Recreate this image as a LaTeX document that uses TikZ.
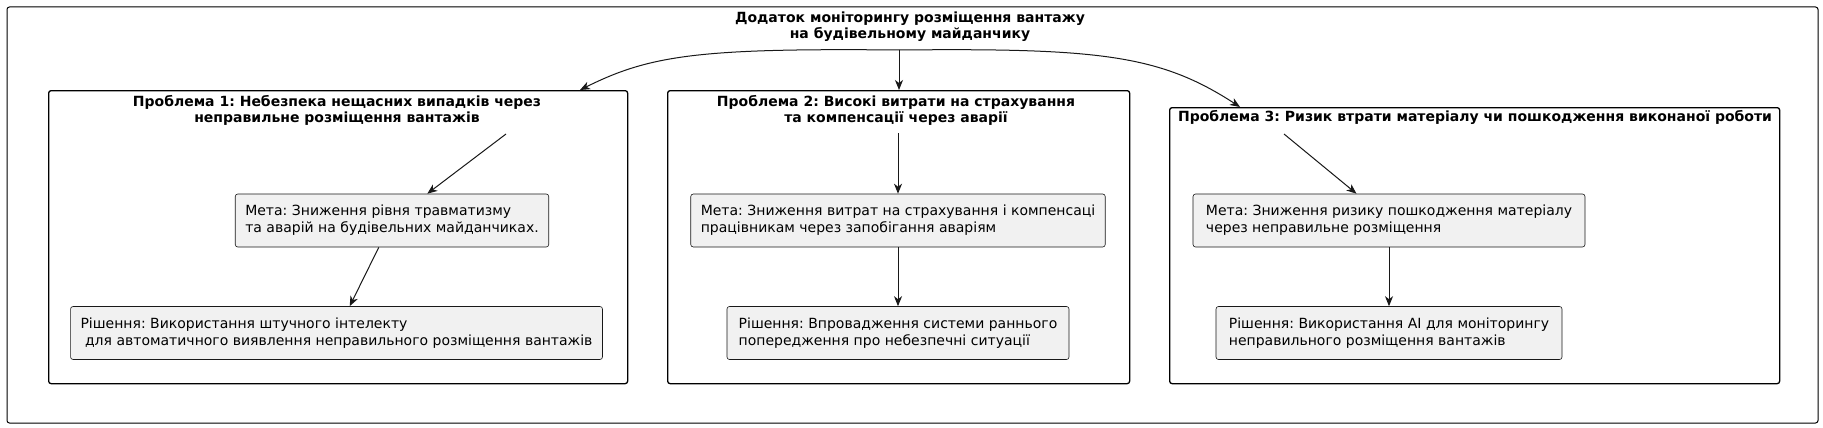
\documentclass[tikz,border=0pt]{standalone}
\usepackage{fontspec}
\setmainfont{DejaVu Sans}
\usetikzlibrary{arrows.meta}
\definecolor{boxfill}{HTML}{F1F1F1}
\definecolor{boxline}{HTML}{181818}
\frenchspacing
\begin{document}
\begin{tikzpicture}[x=1pt,y=-1pt,
  frame/.style={draw=black, line width=1pt, rounded corners=2.5pt, fill=white},
  probframe/.style={draw=black, line width=1.3pt, rounded corners=2.5pt, inner sep=0pt, anchor=north west},
  textbox/.style={draw=boxline, line width=0.6pt, fill=boxfill, rounded corners=2.5pt, align=left,
    minimum height=53pt, inner xsep=10pt, font=\fontsize{14}{17}\selectfont, anchor=center},
  ttl/.style={font=\bfseries\fontsize{14}{16}\selectfont, align=center},
  conn/.style={draw=boxline, line width=1pt, -{Stealth[length=10pt,width=8pt,inset=3pt]}}
]
\useasboundingbox (0,0) rectangle (1823,428);
\draw[frame] (7,7) rectangle (1818,423);
\node[ttl] (title) at (910,27) {Додаток моніторингу розміщення вантажу\\на будівельному майданчику};

% problem frames
\node[probframe, minimum width=579pt, minimum height=293pt] (p1) at (48,90) {};
\node[probframe, minimum width=462pt, minimum height=293pt] (p2) at (667,90) {};
\node[probframe, minimum width=610pt, minimum height=276pt] (p3) at (1169,107) {};

\node[ttl] (p1t) at (337,110) {Проблема 1: Небезпека нещасних випадків через\\неправильне розміщення вантажів};
\node[ttl] (p2t) at (896,110) {Проблема 2: Високі витрати на страхування\\та компенсації через аварії};
\node[ttl] (p3t) at (1475,117) {Проблема 3: Ризик втрати матеріалу чи пошкодження виконаної роботи};

% goal and solution boxes
\node[textbox, minimum width=312pt] (m1) at (392,220.5) {Мета: Зниження рівня травматизму\\та аварій на будівельних майданчиках.};
\node[textbox, minimum width=531pt] (r1) at (336.5,333) {Рішення: Використання штучного інтелекту\\\hspace*{4.5pt}для автоматичного виявлення неправильного розміщення вантажів};
\node[textbox, minimum width=414pt] (m2) at (898,220.5) {Мета: Зниження витрат на страхування і компенсаці\\працівникам через запобігання аваріям};
\node[textbox, minimum width=342pt] (r2) at (898,333) {Рішення: Впровадження системи раннього\\попередження про небезпечні ситуації};
\node[textbox, minimum width=392pt] (m3) at (1389,220.5) {Мета: Зниження ризику пошкодження матеріалу\\через неправильне розміщення};
\node[textbox, minimum width=346pt] (r3) at (1389,333) {Рішення: Використання AI для моніторингу\\неправильного розміщення вантажів};

% connector end points
\coordinate (top) at (899,50);
\coordinate (p1in) at (580,90);
\coordinate (p2in) at (899,90);
\coordinate (p3in) at (1240,107);
\coordinate (p1s) at (506,134);
\coordinate (p2s) at (898,133);
\coordinate (p3s) at (1284,134);

\draw[conn] (top) .. controls (700,48) and (650,55) .. (p1in);
\draw[conn] (top) -- (p2in);
\draw[conn] (top) .. controls (1100,48) and (1160,55) .. (p3in);

\draw[conn] (p1s) -- (m1);
\draw[conn] (m1) -- (r1);
\draw[conn] (p2s) -- (m2);
\draw[conn] (m2) -- (r2);
\draw[conn] (p3s) -- (m3);
\draw[conn] (m3) -- (r3);
\end{tikzpicture}
\end{document}
